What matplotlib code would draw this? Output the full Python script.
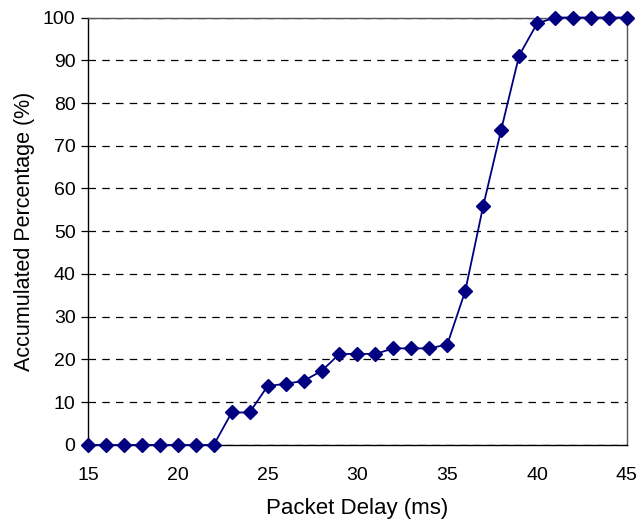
import numpy as np
import matplotlib.pyplot as plt

plt.rcParams['font.family'] = ['Liberation Sans', 'DejaVu Sans']

delay_ms = list(range(15, 46))
accum_pct = [0, 0, 0, 0, 0, 0, 0, 0,
             7.6, 7.6, 13.8, 14.3, 15.0, 17.3, 21.3, 21.3, 21.3,
             22.6, 22.6, 22.6, 23.5, 36.0, 55.9, 73.7, 91.1, 98.6,
             100, 100, 100, 100, 100]

fig = plt.figure(figsize=(6.41, 5.21), dpi=100)
ax = fig.add_axes([0.1373, 0.1459, 0.8407, 0.8205])

ax.plot(delay_ms, accum_pct, color='#000080', lw=1.3, marker='D',
        markersize=7.5, clip_on=False, zorder=3)

ax.set_xlim(15, 45)
ax.set_ylim(0, 100)
ax.set_xticks(np.arange(15, 46, 5))
ax.set_yticks(np.arange(0, 101, 10))
ax.yaxis.grid(True, color='black', linestyle=(0, (6, 5)), lw=0.9)
ax.set_axisbelow(True)

for s in ax.spines.values():
    s.set_color('#555555')
    s.set_linewidth(1.0)
ax.spines['left'].set_color('black')
ax.spines['bottom'].set_color('black')

ax.tick_params(axis='y', labelsize=14, length=5, width=0.9, direction='out', pad=4)
ax.tick_params(axis='x', labelsize=14, length=0, pad=16)
ax.set_xlabel('Packet Delay (ms)', fontsize=16, labelpad=10)
ax.set_ylabel('Accumulated Percentage (%)', fontsize=15.5, labelpad=6)

fig.savefig('out.png', dpi=100)
